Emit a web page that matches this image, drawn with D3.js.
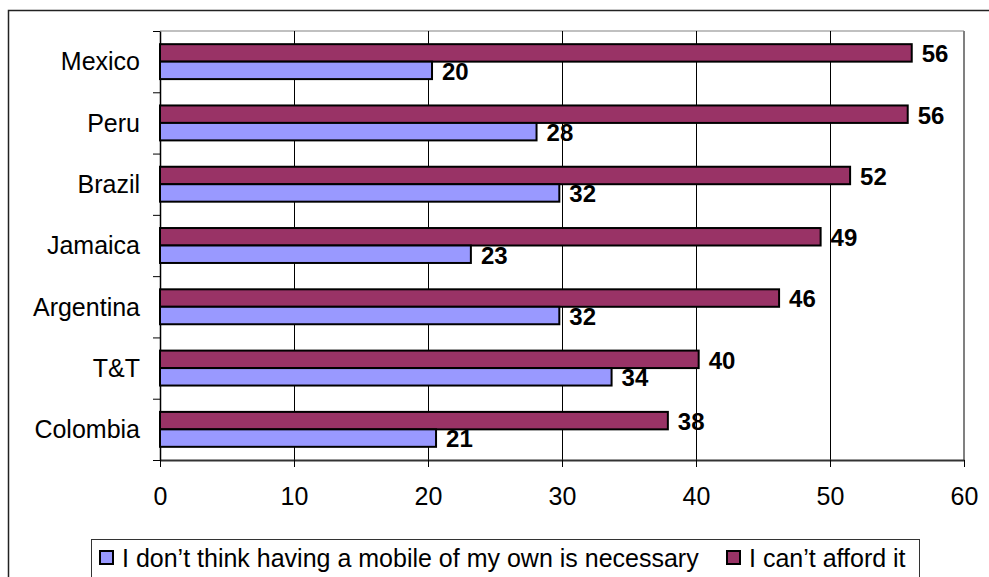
<!DOCTYPE html>
<html lang="en">
<head>
    <meta charset="UTF-8">
    <title>Mobile ownership reasons by country</title>
    <script src="https://cdnjs.cloudflare.com/ajax/libs/d3/7.8.5/d3.min.js"></script>
    <style>
        body {
            margin: 0;
            background: #fff;
            font-family: Arial, "Liberation Sans", sans-serif;
        }
        .cat-label, .legend-text {
            font-size: 25px;
            fill: #000;
        }
        .value-label {
            font-size: 24px;
            font-weight: bold;
            fill: #000;
        }
    </style>
</head>
<body>
    <div id="chart"></div>

    <script>
        // Data
        const categories = ["Mexico", "Peru", "Brazil", "Jamaica", "Argentina", "T&T", "Colombia"];
        const affordValues = [56.1, 55.8, 51.5, 49.3, 46.2, 40.2, 37.9];
        const necessaryValues = [20.3, 28.1, 29.8, 23.2, 29.8, 33.7, 20.6];
        const affordLabels = ["56", "56", "52", "49", "46", "40", "38"];
        const necessaryLabels = ["20", "28", "32", "23", "32", "34", "21"];
        const seriesNames = ["I don\u2019t think having a mobile of my own is necessary", "I can\u2019t afford it"];
        const xTicks = [0, 10, 20, 30, 40, 50, 60];

        const W = 989, H = 577;
        const plot = {left: 160, right: 964, top: 31, bottom: 460};
        const colorNecessary = "#9999ff";
        const colorAfford = "#993366";

        const svg = d3.select("#chart")
            .append("svg")
            .attr("width", W)
            .attr("height", H);

        // outer chart frame (runs off the right / bottom edge)
        svg.append("rect")
            .attr("x", 8.5)
            .attr("y", 10.5)
            .attr("width", 1000)
            .attr("height", 700)
            .attr("fill", "none")
            .attr("stroke", "#222")
            .attr("stroke-width", 1.5);

        const x = d3.scaleLinear()
            .domain([0, 60])
            .range([plot.left, plot.right]);

        const y = d3.scaleBand()
            .domain(categories)
            .range([plot.top, plot.bottom])
            .paddingInner(0.43)
            .paddingOuter(0.215);

        const ySeries = d3.scaleBand()
            .domain(["afford", "necessary"])
            .range([0, y.bandwidth()]);

        const yEdge = d3.scaleLinear()
            .domain([0, categories.length])
            .range([plot.top, plot.bottom]);

        // plot area border: top light grey, right grey
        svg.append("line")
            .attr("x1", plot.left).attr("x2", plot.right)
            .attr("y1", plot.top).attr("y2", plot.top)
            .attr("stroke", "#c0c0c0")
            .attr("stroke-width", 2);
        svg.append("line")
            .attr("x1", plot.right).attr("x2", plot.right)
            .attr("y1", plot.top).attr("y2", plot.bottom)
            .attr("stroke", "#808080")
            .attr("stroke-width", 2);

        // vertical grid lines
        svg.append("g")
            .selectAll("line")
            .data(xTicks.filter(d => d > 0 && d < 60))
            .enter().append("line")
            .attr("x1", d => x(d) + 0.5).attr("x2", d => x(d) + 0.5)
            .attr("y1", plot.top).attr("y2", plot.bottom)
            .attr("stroke", "#000")
            .attr("stroke-width", 1);

        // bottom axis
        const xAxis = svg.append("g")
            .attr("transform", `translate(0,${plot.bottom})`)
            .call(d3.axisBottom(x)
                .tickValues(xTicks)
                .tickSize(7)
                .tickSizeOuter(0)
                .tickPadding(20));
        xAxis.select(".domain").attr("stroke", "#333").attr("stroke-width", 2);
        xAxis.selectAll(".tick line").attr("stroke", "#000");
        xAxis.selectAll(".tick text")
            .attr("fill", "#000")
            .style("font-family", "Arial, 'Liberation Sans', sans-serif")
            .style("font-size", "25px");

        // left axis with ticks on category boundaries
        const yAxis = svg.append("g")
            .attr("transform", `translate(${plot.left},0)`)
            .call(d3.axisLeft(yEdge)
                .ticks(categories.length)
                .tickSize(7)
                .tickSizeOuter(0)
                .tickFormat(""));
        yAxis.select(".domain").attr("stroke", "#000").attr("stroke-width", 1.5);
        yAxis.selectAll(".tick line").attr("stroke", "#000");

        // category labels
        svg.append("g")
            .selectAll("text")
            .data(categories)
            .enter().append("text")
            .attr("class", "cat-label")
            .attr("x", 140)
            .attr("y", d => y(d) + y.bandwidth() / 2)
            .attr("dy", "0.35em")
            .attr("text-anchor", "end")
            .text(d => d);

        const rows = categories.map((c, i) => ({
            cat: c,
            afford: affordValues[i],
            necessary: necessaryValues[i],
            affordLabel: affordLabels[i],
            necessaryLabel: necessaryLabels[i]
        }));

        const series = [
            {key: "afford", color: colorAfford, label: "affordLabel"},
            {key: "necessary", color: colorNecessary, label: "necessaryLabel"}
        ];

        series.forEach(s => {
            svg.append("g")
                .selectAll("rect")
                .data(rows)
                .enter().append("rect")
                .attr("x", x(0))
                .attr("y", d => y(d.cat) + ySeries(s.key))
                .attr("width", d => x(d[s.key]) - x(0))
                .attr("height", ySeries.bandwidth())
                .attr("fill", s.color)
                .attr("stroke", "#000")
                .attr("stroke-width", 2);

            svg.append("g")
                .selectAll("text")
                .data(rows)
                .enter().append("text")
                .attr("class", "value-label")
                .attr("x", d => x(d[s.key]) + 10)
                .attr("y", d => y(d.cat) + ySeries(s.key) + ySeries.bandwidth() / 2 + 1)
                .attr("dy", "0.35em")
                .text(d => d[s.label]);
        });

        // legend
        const legend = svg.append("g");
        legend.append("rect")
            .attr("x", 91.5)
            .attr("y", 539.5)
            .attr("width", 828)
            .attr("height", 60)
            .attr("fill", "#fff")
            .attr("stroke", "#333")
            .attr("stroke-width", 1);

        const legendItems = [
            {name: seriesNames[0], color: colorNecessary, x: 100},
            {name: seriesNames[1], color: colorAfford, x: 727}
        ];
        legendItems.forEach(item => {
            legend.append("rect")
                .attr("x", item.x)
                .attr("y", 551)
                .attr("width", 13)
                .attr("height", 13)
                .attr("fill", item.color)
                .attr("stroke", "#000")
                .attr("stroke-width", 2);
            legend.append("text")
                .attr("class", "legend-text")
                .attr("x", item.x + 22)
                .attr("y", 558)
                .attr("dy", "0.35em")
                .text(item.name);
        });
    </script>
</body>
</html>
